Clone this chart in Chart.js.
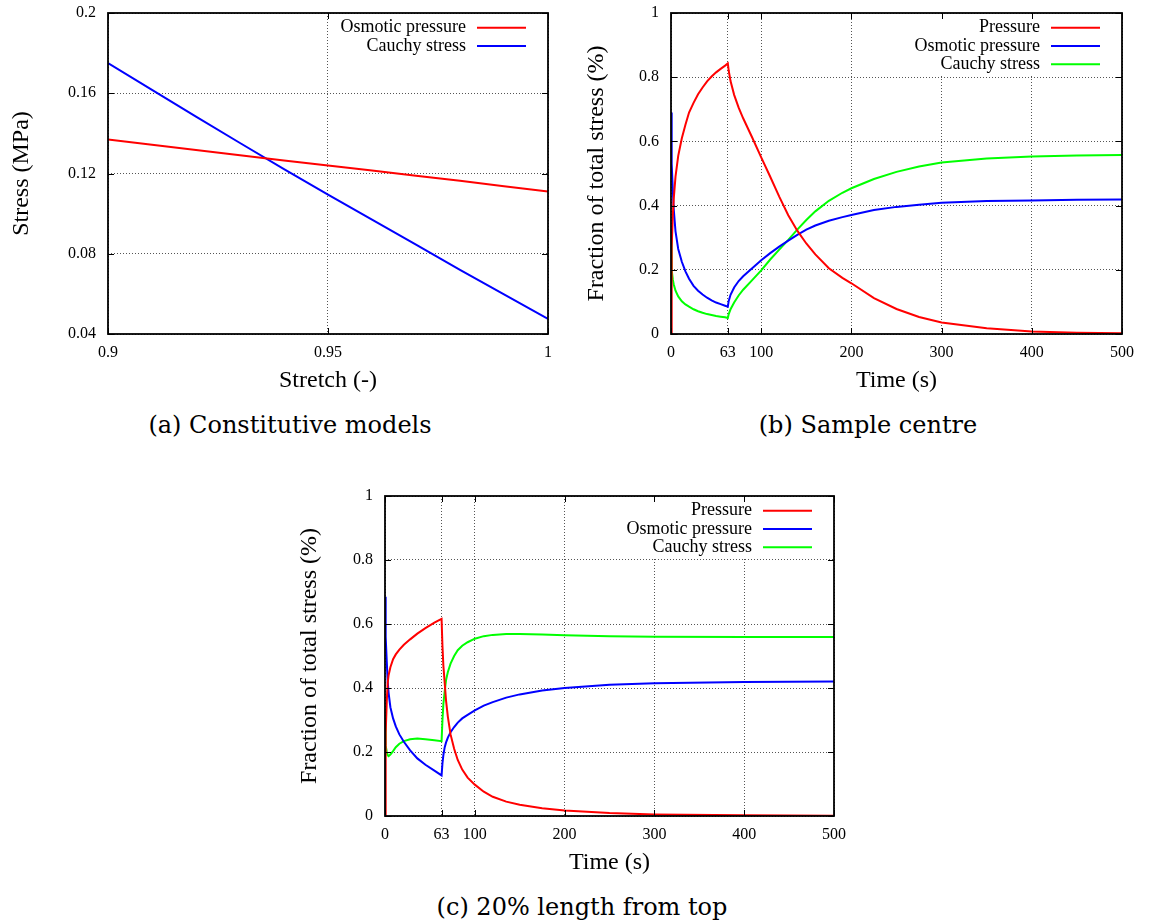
<!DOCTYPE html>
<html><head><meta charset="utf-8">
<script src="https://cdn.jsdelivr.net/npm/chart.js@4.4.1/dist/chart.umd.min.js"></script>
<style>
html,body{margin:0;padding:0;background:#fff;width:1152px;height:923px;overflow:hidden}
.wrap{position:absolute;width:576px;height:400px}
.cap{position:absolute;font-family:"DejaVu Serif",serif;font-size:24px;color:#000;white-space:nowrap;transform:translate(-50%,-50%);line-height:1}
</style></head><body>
<div class="wrap" style="left:0;top:0"><canvas id="ca" width="576" height="400"></canvas></div>
<div class="wrap" style="left:576px;top:0"><canvas id="cb" width="576" height="400"></canvas></div>
<div class="wrap" style="left:288px;top:480px"><canvas id="cc" width="576" height="400"></canvas></div>
<div class="cap" style="left:290px;top:425px">(a) Constitutive models</div>
<div class="cap" style="left:868px;top:425px">(b) Sample centre</div>
<div class="cap" style="left:582px;top:907px">(c) 20% length from top</div>
<script>
// ---------- (a) Constitutive models ----------
const stretchA = [0.90,0.91,0.92,0.93,0.94,0.95,0.96,0.97,0.98,0.99,1.00];
const osmoticA = [0.137,0.1343,0.1317,0.1291,0.1265,0.1240,0.1215,0.1189,0.1164,0.1137,0.111];
const cauchyA  = [0.175,0.1617,0.1483,0.1352,0.1222,0.1095,0.0970,0.0845,0.0720,0.0597,0.0475];
const xTicksA = [0.9,0.95,1];
const xLabelsA = ['0.9','0.95','1'];
const yTicksA = [0.04,0.08,0.12,0.16,0.2];
const yLabelsA = ['0.04','0.08','0.12','0.16','0.2'];

// ---------- (b) Sample centre ----------
const timeB     = [0,0.5,1,2,3,5,8,12,16,20,25,30,35,40,45,50,55,60,63,64,66,70,75,80,90,100,110,120,130,140,150,160,175,190,200,225,250,275,300,350,400,450,500];
const pressureB = [0,0.16,0.27,0.37,0.42,0.49,0.555,0.61,0.652,0.69,0.72,0.747,0.768,0.787,0.802,0.815,0.826,0.836,0.843,0.82,0.788,0.745,0.705,0.672,0.612,0.55,0.49,0.428,0.37,0.322,0.282,0.248,0.205,0.175,0.158,0.112,0.078,0.053,0.036,0.018,0.008,0.004,0.002];
const osmoticB  = [0.69,0.6,0.53,0.45,0.39,0.32,0.265,0.225,0.195,0.172,0.15,0.135,0.123,0.113,0.105,0.098,0.093,0.088,0.085,0.103,0.122,0.145,0.165,0.18,0.205,0.23,0.252,0.272,0.291,0.309,0.325,0.338,0.353,0.364,0.371,0.386,0.396,0.403,0.409,0.414,0.416,0.418,0.419];
const cauchyB   = [0.30,0.24,0.20,0.17,0.155,0.135,0.117,0.102,0.092,0.085,0.077,0.071,0.066,0.062,0.059,0.056,0.054,0.052,0.05,0.062,0.077,0.098,0.12,0.138,0.168,0.198,0.232,0.263,0.293,0.325,0.355,0.382,0.415,0.44,0.454,0.483,0.505,0.522,0.534,0.547,0.553,0.556,0.558];

// ---------- (c) 20% length from top ----------
const timeC     = [0,0.5,1,2,3,4,6,9,12,16,21,28,36,45,55,63,64,65,66.5,68,70,73,77,81,86,92,100,110,120,135,150,175,200,250,300,400,500];
const pressureC = [0,0.15,0.26,0.36,0.415,0.44,0.465,0.49,0.505,0.52,0.535,0.552,0.57,0.587,0.604,0.616,0.53,0.47,0.415,0.36,0.31,0.255,0.21,0.175,0.145,0.12,0.098,0.076,0.06,0.045,0.035,0.024,0.017,0.009,0.005,0.002,0.001];
const osmoticC  = [0.685,0.62,0.56,0.48,0.42,0.385,0.34,0.305,0.28,0.255,0.232,0.205,0.18,0.16,0.142,0.127,0.165,0.19,0.215,0.23,0.245,0.262,0.278,0.292,0.305,0.316,0.33,0.345,0.356,0.37,0.38,0.392,0.4,0.41,0.415,0.419,0.42];
const cauchyC   = [0.29,0.25,0.22,0.2,0.19,0.187,0.192,0.203,0.215,0.226,0.234,0.24,0.242,0.24,0.237,0.234,0.30,0.35,0.39,0.425,0.45,0.476,0.5,0.518,0.532,0.543,0.554,0.562,0.566,0.569,0.569,0.567,0.565,0.562,0.56,0.559,0.559];

const timeTicks  = [0,63,100,200,300,400,500];
const timeLabels = ['0','63','100','200','300','400','500'];
const fracTicks  = [0,0.2,0.4,0.6,0.8,1];
const fracLabels = ['0','0.2','0.4','0.6','0.8','1'];

const RED = '#ff0000', BLUE = '#0000ff', GREEN = '#00ff00';
const SERIF = "'Liberation Serif','Times New Roman',serif";

function pts(xs, ys){ return xs.map((x,i)=>({x:x, y:ys[i]})); }
function fixedTicks(vals){ return s => { s.ticks = vals.map(v=>({value:v})); }; }

const framePlugin = {
  id: 'gnuFrame',
  beforeDatasetsDraw(chart) {
    const ctx = chart.ctx, ca = chart.chartArea, ds = chart.data.datasets;
    ctx.save();
    ctx.font = '18px ' + SERIF;
    const lineEnd = ca.right - 22, lineStart = lineEnd - 49, textRight = lineStart - 11;
    let maxW = 0;
    ds.forEach(d => { maxW = Math.max(maxW, ctx.measureText(d.label).width); });
    const boxLeft = textRight - maxW - 12;
    const rowH = 18.3, y0 = ca.top + 14.7;
    ctx.fillStyle = '#fff';
    ctx.fillRect(boxLeft, ca.top + 1, ca.right - boxLeft - 1, ds.length * rowH + 6.5);
    ds.forEach((d, i) => {
      const y = y0 + i * rowH;
      ctx.fillStyle = '#000'; ctx.textAlign = 'right'; ctx.textBaseline = 'middle';
      ctx.fillText(d.label, textRight, y);
      ctx.strokeStyle = d.borderColor; ctx.lineWidth = 2;
      ctx.beginPath(); ctx.moveTo(lineStart, y); ctx.lineTo(lineEnd, y); ctx.stroke();
    });
    ctx.restore();
  },
  afterDatasetsDraw(chart) {
    const ctx = chart.ctx, ca = chart.chartArea, x = chart.scales.x, y = chart.scales.y;
    ctx.save();
    ctx.strokeStyle = '#000'; ctx.lineWidth = 1;
    ctx.beginPath();
    x.ticks.forEach(t => {
      const p = Math.round(x.getPixelForValue(t.value)) + 0.5;
      ctx.moveTo(p, ca.bottom); ctx.lineTo(p, ca.bottom - 6);
      ctx.moveTo(p, ca.top); ctx.lineTo(p, ca.top + 6);
    });
    y.ticks.forEach(t => {
      const p = Math.round(y.getPixelForValue(t.value)) + 0.5;
      ctx.moveTo(ca.left, p); ctx.lineTo(ca.left + 6, p);
      ctx.moveTo(ca.right, p); ctx.lineTo(ca.right - 6, p);
    });
    ctx.stroke();
    ctx.lineWidth = 1.8;
    ctx.strokeRect(ca.left, ca.top, ca.right - ca.left, ca.bottom - ca.top);
    ctx.restore();
  }
};

function makeChart(id, o) {
  return new Chart(document.getElementById(id), {
    type: 'line',
    data: { datasets: o.series.map(s => ({
      label: s.label, data: pts(s.x, s.y), borderColor: s.color, backgroundColor: s.color,
      borderWidth: 2, pointRadius: 0, tension: 0, fill: false
    })) },
    options: {
      responsive: false, animation: false, events: [],
      layout: { padding: { left: 0, top: o.top, right: o.right, bottom: 0 } },
      plugins: { legend: { display: false }, tooltip: { enabled: false } },
      scales: {
        x: {
          type: 'linear', min: o.xMin, max: o.xMax,
          afterBuildTicks: fixedTicks(o.xTicks),
          afterFit: s => { s.height = o.xH; s.paddingLeft = 0; s.paddingRight = 0; },
          ticks: { callback: (v, i) => o.xLabels[i], font: { family: SERIF, size: 16 }, color: '#000', padding: 9, maxRotation: 0, autoSkip: false },
          grid: { color: '#555', lineWidth: 1, drawTicks: false },
          border: { display: false, dash: [1, 2] },
          title: { display: true, text: o.xTitle, font: { family: SERIF, size: 24 }, color: '#000', padding: { top: 0, bottom: o.xTitlePad } }
        },
        y: {
          type: 'linear', min: o.yMin, max: o.yMax,
          afterBuildTicks: fixedTicks(o.yTicks),
          afterFit: s => { s.width = o.yW; s.paddingTop = 0; s.paddingBottom = 0; },
          ticks: { callback: (v, i) => o.yLabels[i], font: { family: SERIF, size: 16 }, color: '#000', padding: 12, autoSkip: false },
          grid: { color: '#555', lineWidth: 1, drawTicks: false },
          border: { display: false, dash: [1, 2] },
          title: { display: true, text: o.yTitle, font: { family: SERIF, size: 24 }, color: '#000', padding: { top: o.yTitlePad, bottom: 0 } }
        }
      }
    },
    plugins: [framePlugin]
  });
}

makeChart('ca', {
  series: [
    { label: 'Osmotic pressure', x: stretchA, y: osmoticA, color: RED },
    { label: 'Cauchy stress', x: stretchA, y: cauchyA, color: BLUE }
  ],
  xMin: 0.9, xMax: 1, xTicks: xTicksA, xLabels: xLabelsA,
  yMin: 0.04, yMax: 0.2, yTicks: yTicksA, yLabels: yLabelsA,
  xTitle: 'Stretch (-)', yTitle: 'Stress (MPa)',
  top: 13, right: 28, yW: 108, xH: 66, yTitlePad: 7.6, xTitlePad: 4.6
});

makeChart('cb', {
  series: [
    { label: 'Pressure', x: timeB, y: pressureB, color: RED },
    { label: 'Osmotic pressure', x: timeB, y: osmoticB, color: BLUE },
    { label: 'Cauchy stress', x: timeB, y: cauchyB, color: GREEN }
  ],
  xMin: 0, xMax: 500, xTicks: timeTicks, xLabels: timeLabels,
  yMin: 0, yMax: 1, yTicks: fracTicks, yLabels: fracLabels,
  xTitle: 'Time (s)', yTitle: 'Fraction of total stress (%)',
  top: 13, right: 30, yW: 95, xH: 66, yTitlePad: 6.6, xTitlePad: 4.6
});

makeChart('cc', {
  series: [
    { label: 'Pressure', x: timeC, y: pressureC, color: RED },
    { label: 'Osmotic pressure', x: timeC, y: osmoticC, color: BLUE },
    { label: 'Cauchy stress', x: timeC, y: cauchyC, color: GREEN }
  ],
  xMin: 0, xMax: 500, xTicks: timeTicks, xLabels: timeLabels,
  yMin: 0, yMax: 1, yTicks: fracTicks, yLabels: fracLabels,
  xTitle: 'Time (s)', yTitle: 'Fraction of total stress (%)',
  top: 16, right: 30, yW: 97, xH: 64, yTitlePad: 7.6, xTitlePad: 2.6
});
</script>
</body></html>
